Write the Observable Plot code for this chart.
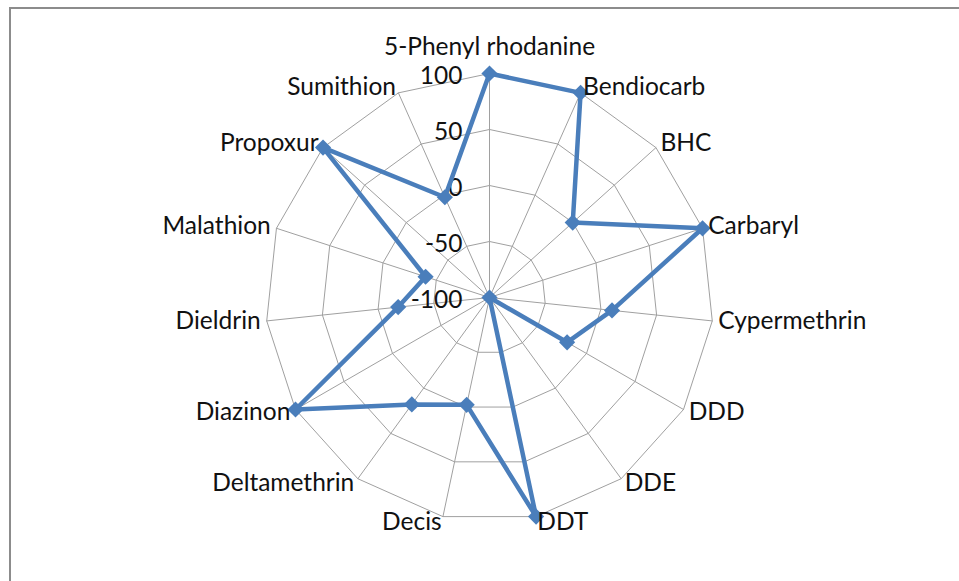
<!DOCTYPE html>
<html>
<head>
<meta charset="utf-8">
<script src="https://cdn.jsdelivr.net/npm/d3@7"></script>
<script src="https://cdn.jsdelivr.net/npm/@observablehq/plot@0.6"></script>
<style>
  html, body { margin: 0; padding: 0; background: #fff; }
  #wrap { position: relative; width: 959px; height: 581px; overflow: hidden; }
  #frame { position: absolute; left: 9px; top: 7px; width: 1000px; height: 1000px; border: 2px solid #8c8c8c; box-sizing: border-box; pointer-events: none; }
  #chart { position: absolute; left: 0; top: 0; }
</style>
</head>
<body>
<div id="wrap"><div id="chart"></div><div id="frame"></div></div>
<script>
const categories = ["5-Phenyl rhodanine", "Bendiocarb", "BHC", "Carbaryl", "Cypermethrin", "DDD", "DDE", "DDT", "Decis", "Deltamethrin", "Diazinon", "Dieldrin", "Malathion", "Propoxur", "Sumithion"];
const values = [100, 100, 0, 100, 10, -20, -100, 100, -2, 18, 100, -18, -40, 100, -2];
const ringTicks = [-100, -50, 0, 50, 100];

const W = 959, H = 581, cx = 489, cy = 297, R = 224;
const minV = ringTicks[0], maxV = ringTicks[ringTicks.length - 1];
const n = categories.length;
const ang = i => 2 * Math.PI * i / n;
const rad = v => (v - minV) / (maxV - minV);

const pts = categories.map((c, i) => ({c, v: values[i], a: ang(i)}));
const closed = [...pts, pts[0]];
const ringData = ringTicks.slice(1).flatMap(t => d3.range(n + 1).map(i => ({t, a: ang(i % n)})));
const spokes = categories.flatMap((c, i) => [{c, a: ang(i), r: 0}, {c, a: ang(i), r: 1}]);

const px = d => d.r * Math.sin(d.a);
const py = d => d.r * Math.cos(d.a);
const Lr = 230 / R;

const gridColor = "#a0a0a0";
const blue = "#4a7ebb";
const fs = 24.5;

const chart = Plot.plot({
  width: W, height: H,
  margin: 0,
  x: {axis: null, domain: [-cx / R, (W - cx) / R], range: [0, W]},
  y: {axis: null, domain: [-(H - cy) / R, cy / R], range: [H, 0]},
  style: {fontFamily: "Lato, 'Open Sans', sans-serif", background: "transparent", color: "#111"},
  marks: [
    Plot.line(ringData, {x: d => rad(d.t) * Math.sin(d.a), y: d => rad(d.t) * Math.cos(d.a), z: "t", stroke: gridColor, strokeWidth: 1}),
    Plot.line(spokes, {x: px, y: py, z: "c", stroke: gridColor, strokeWidth: 1}),
    Plot.text(ringTicks, {x: 0, y: t => rad(t), text: t => String(t), textAnchor: "end", dx: -27, dy: 3, fontSize: fs}),
    Plot.line(closed, {x: d => rad(d.v) * Math.sin(d.a), y: d => rad(d.v) * Math.cos(d.a), stroke: blue, strokeWidth: 4.5, strokeLinejoin: "round"}),
    Plot.dot(pts, {x: d => rad(d.v) * Math.sin(d.a), y: d => rad(d.v) * Math.cos(d.a), symbol: "diamond2", r: 7.3, fill: blue, stroke: "none"}),
    Plot.text(pts.filter(d => Math.sin(d.a) > 1e-6), {x: d => Lr * Math.sin(d.a), y: d => Lr * Math.cos(d.a), text: "c", textAnchor: "start", fontSize: fs}),
    Plot.text(pts.filter(d => Math.sin(d.a) < -1e-6), {x: d => Lr * Math.sin(d.a), y: d => Lr * Math.cos(d.a), text: "c", textAnchor: "end", fontSize: fs}),
    Plot.text(pts.filter(d => Math.abs(Math.sin(d.a)) <= 1e-6), {x: d => Lr * Math.sin(d.a), y: d => Lr * Math.cos(d.a), text: "c", textAnchor: "middle", dy: -20, fontSize: fs})
  ]
});
document.getElementById("chart").appendChild(chart);
</script>
</body>
</html>
